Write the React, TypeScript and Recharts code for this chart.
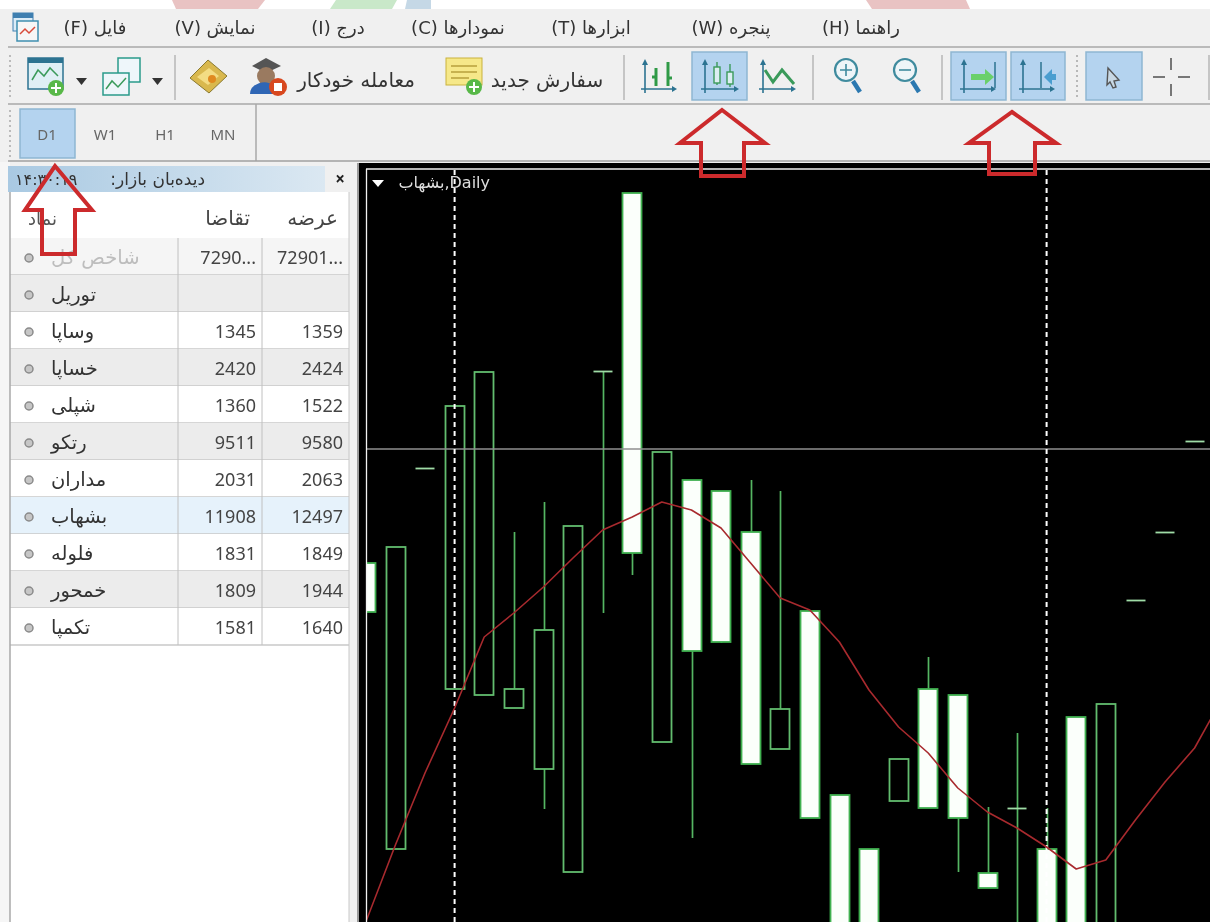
import { Bar, ComposedChart, Line, ReferenceLine, XAxis, YAxis } from 'recharts';

// candles, price axis is a guess from the bid/ask shown in the table
const days = ['d01', 'd02', 'd03', 'd04', 'd05', 'd06', 'd07', 'd08', 'd09', 'd10', 'd11', 'd12', 'd13', 'd14', 'd15', 'd16', 'd17', 'd18', 'd19', 'd20', 'd21', 'd22', 'd23', 'd24', 'd25', 'd26', 'd27', 'd28', 'd29', 'd30'];
const opens = [12269, 11697, 12459, 12017, 12005, 11979, 11857, 11651, 12653, 13009, 11911, 12435, 12413, 12331, 11897, 12173, 11805, 11697, 11793, 12017, 12005, 11649, 11779, 11697, 11961, 11395, 12195, 12331, 12513, null];
const closes = [12171, 12301, 12459, 12583, 12651, 12017, 12135, 12343, 12653, 12289, 12491, 12093, 12111, 11867, 11977, 11759, 11435, 11415, 11877, 11779, 11759, 11619, 11779, 11395, 11395, 11987, 12195, 12331, 12513, null];
const highs = [12269, 12301, 12459, 12583, 12651, 12331, 12391, 12343, 12653, 13009, 12491, 12435, 12413, 12435, 12413, 12173, 11805, 11697, 11877, 12081, 12005, 11781, 11929, 11779, 11961, 11987, 12195, 12331, 12513, null];
const lows = [12171, 11697, 12459, 12017, 12005, 11979, 11777, 11651, 12169, 12245, 11911, 11719, 12109, 11867, 11897, 11759, 11435, 11415, 11793, 11779, 11651, 11619, 11495, 11395, 11395, 11395, 12195, 12331, 12513, null];
const movingAvg = [11551, 11705, 11849, 11979, 12121, 12169, 12221, 12279, 12335, 12361, 12391, 12375, 12339, 12269, 12199, 12175, 12111, 12015, 11941, 11889, 11819, 11771, 11739, 11701, 11657, 11675, 11755, 11831, 11899, 12005];

const separatorDays = ['d04', 'd24'];
const lastPrice = 12497;
const priceDomain = [11551, 13059];

const chartData = days.map((day, i) => ({
  day,
  open: opens[i],
  close: closes[i],
  high: highs[i],
  low: lows[i],
  ma: movingAvg[i],
}));

// market watch table
const symbols = ['شاخص کل', 'توریل', 'وساپا', 'خساپا', 'شپلی', 'رتکو', 'مداران', 'بشهاب', 'فلوله', 'خمحور', 'تکمپا'];
const bids = ['7290...', '', '1345', '2420', '1360', '9511', '2031', '11908', '1831', '1809', '1581'];
const asks = ['72901...', '', '1359', '2424', '1522', '9580', '2063', '12497', '1849', '1944', '1640'];

const menuItems = [
  { label: 'فایل (F)', x: 95 },
  { label: 'نمایش (V)', x: 215 },
  { label: 'درج (I)', x: 338 },
  { label: 'نمودارها (C)', x: 458 },
  { label: 'ابزارها (T)', x: 591 },
  { label: 'پنجره (W)', x: 731 },
  { label: 'راهنما (H)', x: 861 },
];
const periods = [
  { label: 'D1', x: 47 },
  { label: 'W1', x: 105 },
  { label: 'H1', x: 165 },
  { label: 'MN', x: 223 },
];

const faFont = '"DejaVu Sans", sans-serif';
const numFont = '"Noto Sans", sans-serif';
const GREEN = '#55b562';
const BLUE = '#2c7391';

const wickRange = (d: any) => (d.high == null ? null : [d.low, d.high]);
const bodyRange = (d: any) => (d.open == null ? null : [Math.min(d.open, d.close), Math.max(d.open, d.close)]);

function WickShape(props: any) {
  const { x, y, width, height, payload } = props;
  if (!payload || payload.high == null || height < 1) return null;
  const cx = Math.round(x + width / 2) + 0.5;
  return <line x1={cx} x2={cx} y1={y} y2={y + height} stroke={GREEN} strokeWidth={1.7} />;
}

function BodyShape(props: any) {
  const { x, y, width, height, payload } = props;
  if (!payload || payload.open == null) return null;
  const left = Math.round(x) + 0.5;
  const w = Math.round(width) - 1;
  if (height < 1) {
    const py = Math.round(y) + 0.5;
    return <line x1={left} x2={left + w} y1={py} y2={py} stroke="#9fdca6" strokeWidth={1.8} />;
  }
  const hollow = payload.close > payload.open;
  return (
    <rect
      x={left}
      y={y}
      width={w}
      height={height}
      fill={hollow ? '#000' : '#fbfffb'}
      stroke={hollow ? '#62bc6e' : '#3fb04f'}
      strokeWidth={1.8}
    />
  );
}

function Candles() {
  return (
    <ComposedChart width={888} height={754} data={chartData} margin={{ top: 0, right: 0, bottom: 0, left: 0 }}>
      <XAxis xAxisId="wick" dataKey="day" hide />
      <XAxis xAxisId="body" dataKey="day" hide />
      <YAxis hide domain={priceDomain} allowDataOverflow />
      <ReferenceLine xAxisId="body" y={lastPrice} stroke="#8f8f8f" strokeWidth={1.7} />
      {separatorDays.map((d) => (
        <ReferenceLine key={d} xAxisId="body" x={d} stroke="#fff" strokeWidth={2} strokeDasharray="5 4" />
      ))}
      <Bar xAxisId="wick" dataKey={wickRange} barSize={2} shape={<WickShape />} isAnimationActive={false} />
      <Bar xAxisId="body" dataKey={bodyRange} barSize={20} shape={<BodyShape />} isAnimationActive={false} />
      <Line xAxisId="body" dataKey="ma" type="linear" stroke="#a82a2e" strokeWidth={1.6} strokeLinejoin="round" dot={false} isAnimationActive={false} />
    </ComposedChart>
  );
}

function Axes({ x, y, w = 34, h = 34 }: { x: number; y: number; w?: number; h?: number }) {
  return (
    <g stroke={BLUE} strokeWidth={1.6} fill={BLUE}>
      <line x1={x + 4} y1={y + 3} x2={x + 4} y2={y + h} />
      <line x1={x} y1={y + h - 4} x2={x + w - 3} y2={y + h - 4} />
      <path d={`M${x + 1} ${y + 6}L${x + 4} ${y}L${x + 7} ${y + 6}Z`} stroke="none" />
      <path d={`M${x + w - 5} ${y + h - 7}L${x + w} ${y + h - 4}L${x + w - 5} ${y + h - 1}Z`} stroke="none" />
    </g>
  );
}

function Toolbar() {
  return (
    <g>
      {/* new chart */}
      <rect x={28} y={58} width={35} height={31} fill="#dfeff5" stroke={BLUE} strokeWidth={1.5} />
      <rect x={28} y={58} width={35} height={5} fill={BLUE} />
      <polyline points="32,80 38,70 44,76 50,68 58,76" fill="none" stroke="#3a9a5a" strokeWidth={1.5} />
      <circle cx={56} cy={88} r={8} fill="#58b848" />
      <path d="M56 83v10M51 88h10" stroke="#fff" strokeWidth={2} />
      <path d="M76 87h11l-5.5 7Z" fill="#333" transform="translate(0,-9)" />
      {/* tile windows */}
      <rect x={118} y={58} width={22} height={24} fill="#eef6fa" stroke="#2a9a8a" strokeWidth={1.5} />
      <rect x={103} y={73} width={26} height={22} fill="#eef6fa" stroke="#2a9a8a" strokeWidth={1.5} />
      <polyline points="106,89 112,81 118,87 126,78" fill="none" stroke="#3a9a5a" strokeWidth={1.5} />
      <path d="M152 87h11l-5.5 7Z" fill="#333" transform="translate(0,-9)" />
      <line x1={175} y1={55} x2={175} y2={100} stroke="#9a9a9a" />
      {/* book */}
      <path d="M190 78L208 60L227 76L209 93Z" fill="#d9b84e" stroke="#8a7a30" />
      <path d="M197 77L209 68L219 76L208 85Z" fill="#f3dc83" />
      <circle cx={212} cy={79} r={4} fill="#e08a20" />
      {/* auto trading */}
      <path d="M252 66L266 58L281 66L266 73Z" fill="#555" />
      <circle cx={266} cy={76} r={9} fill="#9a7a60" />
      <path d="M250 94a14 12 0 0 1 24 -8l2 8Z" fill="#2f66b5" />
      <circle cx={278} cy={87} r={9} fill="#d8481f" />
      <rect x={274} y={83} width={8} height={8} fill="#fff" />
      {/* new order */}
      <rect x={446} y={58} width={36} height={27} fill="#f6e889" stroke="#c9b23c" />
      <path d="M451 66h26M451 72h26M451 78h18" stroke="#b8a03c" strokeWidth={1.5} />
      <circle cx={474} cy={87} r={8} fill="#58b848" />
      <path d="M474 82v10M469 87h10" stroke="#fff" strokeWidth={2} />
      <line x1={624} y1={55} x2={624} y2={100} stroke="#9a9a9a" />
      {/* bar chart */}
      <Axes x={641} y={59} w={36} />
      <path d="M656 68v18M652 77h4M668 62v24M668 78h4" stroke="#2f9a46" strokeWidth={3} fill="none" />
      {/* candle, active */}
      <rect x={692} y={52} width={55} height={48} fill="#b4d3ef" stroke="#8eb6d2" strokeWidth={1.5} />
      <Axes x={701} y={59} w={38} />
      <path d="M717 62v6M717 82v3M730 64v8M730 84v3" stroke="#3a9a5a" strokeWidth={1.4} />
      <rect x={714} y={67} width={6} height={16} fill="#dceef2" stroke="#3a9a5a" strokeWidth={1.4} />
      <rect x={727} y={72} width={6} height={12} fill="#dceef2" stroke="#3a9a5a" strokeWidth={1.4} />
      {/* line chart */}
      <Axes x={759} y={59} w={37} />
      <polyline points="765,70 773,82 782,70 794,84" fill="none" stroke="#3a9a5a" strokeWidth={3} />
      <line x1={813} y1={55} x2={813} y2={100} stroke="#9a9a9a" />
      {/* zoom */}
      <circle cx={846} cy={70} r={11} fill="#eef5f8" stroke="#3f8b9e" strokeWidth={2.2} />
      <path d="M840 70h12M846 64v12" stroke="#3f8b9e" strokeWidth={1.6} />
      <line x1={853} y1={81} x2={860} y2={92} stroke="#2b78b0" strokeWidth={4.5} />
      <circle cx={905} cy={70} r={11} fill="#eef5f8" stroke="#3f8b9e" strokeWidth={2.2} />
      <path d="M899 70h12" stroke="#3f8b9e" strokeWidth={1.6} />
      <line x1={912} y1={81} x2={919} y2={92} stroke="#2b78b0" strokeWidth={4.5} />
      <line x1={942} y1={55} x2={942} y2={100} stroke="#9a9a9a" />
      {/* auto scroll + shift */}
      <rect x={951} y={52} width={55} height={48} fill="#b4d3ef" stroke="#8eb6d2" strokeWidth={1.5} />
      <Axes x={960} y={59} w={36} />
      <path d="M971 74h14v-5l9 8l-9 8v-5h-14Z" fill="#6ad06a" />
      <line x1={995} y1={62} x2={995} y2={88} stroke={BLUE} strokeWidth={1.5} />
      <rect x={1011} y={52} width={54} height={48} fill="#b4d3ef" stroke="#8eb6d2" strokeWidth={1.5} />
      <Axes x={1019} y={59} w={36} />
      <line x1={1041} y1={62} x2={1041} y2={88} stroke={BLUE} strokeWidth={1.5} />
      <path d="M1056 74h-4v-5l-8 8l8 8v-5h4Z" fill="#4a9ed0" />
      <line x1={1077} y1={55} x2={1077} y2={100} stroke="#b8b8b8" strokeDasharray="2 3" strokeWidth={2} />
      {/* cursor + crosshair */}
      <rect x={1086} y={52} width={56} height={48} fill="#b4d3ef" stroke="#8eb6d2" strokeWidth={1.5} />
      <path d="M1108 68l11 12l-5 1l2 6l-3 1l-3-6l-3 3Z" fill="#c8d8e4" stroke="#555" strokeWidth={1.4} />
      <path d="M1153 77h12M1178 77h12M1171 58v12M1171 84v12" stroke="#777" strokeWidth={2} />
      <line x1={1209} y1={55} x2={1209} y2={100} stroke="#9a9a9a" />
    </g>
  );
}

function rowFill(i: number) {
  if (symbols[i] === 'بشهاب') return '#e6f2fb';
  if (i === 0) return '#f5f5f5';
  return i % 2 === 1 ? '#ececec' : '#fff';
}

function PanelTable() {
  const rowTop = (i: number) => 238 + i * 37;
  return (
    <g>
      <rect x={10} y={192} width={339} height={730} fill="#fff" />
      <defs>
        <linearGradient id="hdr" x1="0" x2="1" y1="0" y2="0">
          <stop offset="0" stopColor="#a9c9e2" />
          <stop offset="1" stopColor="#dbe8f2" />
        </linearGradient>
      </defs>
      <rect x={8} y={166} width={317} height={26} fill="url(#hdr)" />
      <text x={205} y={185} fontFamily={faFont} fontSize={17} fill="#333" textAnchor="start" style={{ direction: 'rtl' }}>
        دیده‌بان بازار:
      </text>
      <text x={15} y={185} fontFamily={faFont} fontSize={16} fill="#333" letterSpacing={1.5}>۱۴:۳۰:۱۹</text>
      <text x={340} y={185} fontFamily={numFont} fontSize={17} fontWeight={700} fill="#222" textAnchor="middle">×</text>
      <text x={57} y={225} fontFamily={faFont} fontSize={18} fill="#555" textAnchor="end" style={{ direction: 'ltr' }}>نماد</text>
      <text x={250} y={225} fontFamily={faFont} fontSize={20} fill="#444" textAnchor="start" style={{ direction: 'rtl' }}>تقاضا</text>
      <text x={338} y={225} fontFamily={faFont} fontSize={20} fill="#444" textAnchor="start" style={{ direction: 'rtl' }}>عرضه</text>
      {symbols.map((name, i) => (
        <g key={name}>
          <rect x={10} y={rowTop(i)} width={339} height={37} fill={rowFill(i)} />
          <line x1={10} x2={349} y1={rowTop(i) + 37} y2={rowTop(i) + 37} stroke="#c9c9c9" strokeWidth={1.5} />
          <circle cx={29} cy={rowTop(i) + 20} r={4} fill="#c6c6c6" stroke="#8a8a8a" strokeWidth={1.5} />
          <text
            x={51}
            y={rowTop(i) + 26}
            fontFamily={faFont}
            fontSize={19.5}
            fill={i === 0 ? '#bdbdbd' : '#333'}
            textAnchor="end"
            style={{ direction: 'rtl' }}
          >
            {name}
          </text>
          <text x={256} y={rowTop(i) + 26} fontFamily={numFont} fontSize={18} fill="#444" textAnchor="end">{bids[i]}</text>
          <text x={343} y={rowTop(i) + 26} fontFamily={numFont} fontSize={18} fill="#444" textAnchor="end">{asks[i]}</text>
        </g>
      ))}
      <line x1={178} x2={178} y1={238} y2={645} stroke="#c0c0c0" />
      <line x1={262} x2={262} y1={238} y2={645} stroke="#c0c0c0" />
      <line x1={10} x2={10} y1={192} y2={922} stroke="#a8a8a8" strokeWidth={1.5} />
      <line x1={349} x2={349} y1={192} y2={922} stroke="#c8c8c8" />
    </g>
  );
}

function Arrow({ points }: { points: string }) {
  return <polygon points={points} fill="none" stroke="#cc2a2c" strokeWidth={4} strokeLinejoin="miter" />;
}

export default function App() {
  return (
    <div style={{ position: 'absolute', left: 0, top: 0, width: 1210, height: 922, overflow: 'hidden', background: '#f0f0f0', filter: 'blur(0.5px)' }}>
      <svg width={1210} height={922} style={{ position: 'absolute', left: 0, top: 0 }}>
        {/* watermark strip at the very top */}
        <rect x={0} y={0} width={1210} height={9} fill="#fff" />
        <polygon points="172,0 265,0 258,9 176,9" fill="#e9c3c3" />
        <polygon points="336,0 397,0 392,9 330,9" fill="#c9e8c9" />
        <polygon points="407,0 431,0 431,9 405,9" fill="#c5d8e6" />
        <polygon points="866,0 966,0 970,9 872,9" fill="#e9c3c3" />
        <rect x={0} y={9} width={1210} height={153} fill="#f0f0f0" />
        {/* app icon */}
        <rect x={13} y={13} width={20} height={18} fill="#dcecf7" stroke="#3f7fb0" />
        <rect x={13} y={13} width={20} height={5} fill="#3f7fb0" />
        <rect x={17} y={21} width={21} height={20} fill="#f6f6f6" stroke="#3f8fb0" strokeWidth={1.5} />
        <polyline points="20,34 25,29 29,33 35,27" fill="none" stroke="#d84a3a" strokeWidth={1.5} />
        {menuItems.map((m) => (
          <text key={m.label} x={m.x} y={34} fontFamily={faFont} fontSize={18} fill="#333" textAnchor="middle" style={{ direction: 'rtl' }}>
            {m.label}
          </text>
        ))}
        <line x1={8} x2={1210} y1={47} y2={47} stroke="#a8a8a8" strokeWidth={1.5} />
        <line x1={8} x2={1210} y1={104} y2={104} stroke="#a8a8a8" strokeWidth={1.5} />
        <line x1={10} x2={10} y1={55} y2={100} stroke="#bbb" strokeDasharray="2 3" strokeWidth={2} />
        <Toolbar />
        <text x={356} y={87} fontFamily={faFont} fontSize={20} fill="#333" textAnchor="middle" style={{ direction: 'rtl' }}>معامله خودکار</text>
        <text x={547} y={87} fontFamily={faFont} fontSize={20} fill="#333" textAnchor="middle" style={{ direction: 'rtl' }}>سفارش جدید</text>
        {/* period tabs */}
        <line x1={10} x2={10} y1={110} y2={158} stroke="#bbb" strokeDasharray="2 3" strokeWidth={2} />
        <rect x={20} y={109} width={55} height={49} fill="#b4d3ef" stroke="#8eb6d2" strokeWidth={1.5} />
        {periods.map((p) => (
          <text key={p.label} x={p.x} y={140} fontFamily={numFont} fontSize={15} fill="#666" textAnchor="middle">{p.label}</text>
        ))}
        <line x1={256} x2={256} y1={104} y2={161} stroke="#a8a8a8" strokeWidth={1.5} />
        <line x1={8} x2={1210} y1={161} y2={161} stroke="#a0a0a0" strokeWidth={1.5} />
        <rect x={0} y={162} width={10} height={760} fill="#f6f6f6" />
        <PanelTable />
        {/* chart frame */}
        <rect x={359} y={163} width={851} height={759} fill="#000" />
        <line x1={358} x2={358} y1={163} y2={922} stroke="#9a9a9a" strokeWidth={2} />
      </svg>

      <div style={{ position: 'absolute', left: 367, top: 170, width: 843, height: 752, overflow: 'hidden', background: '#000' }}>
        <div style={{ position: 'absolute', left: -16.4, top: -2 }}>
          <Candles />
        </div>
      </div>

      <svg width={1210} height={922} style={{ position: 'absolute', left: 0, top: 0 }}>
        <line x1={366} x2={1210} y1={169} y2={169} stroke="#f2f2f2" strokeWidth={1.3} />
        <line x1={366.5} x2={366.5} y1={169} y2={922} stroke="#f2f2f2" strokeWidth={1.3} />
        <path d="M372 180h12l-6 7Z" fill="#fff" />
        <text x={490} y={188} fontFamily={faFont} fontSize={16} fill="#ddd" textAnchor="end" style={{ direction: 'ltr' }}>
          بشهاب,Daily
        </text>
        <Arrow points="722,110 765,143 744,143 744,176 701,176 701,143 680,143" />
        <Arrow points="1012,112 1056,143 1035,143 1035,174 989,174 989,143 969,143" />
        <Arrow points="55,166 92,210 75,210 75,254 42,254 42,210 25,210" />
      </svg>
    </div>
  );
}
